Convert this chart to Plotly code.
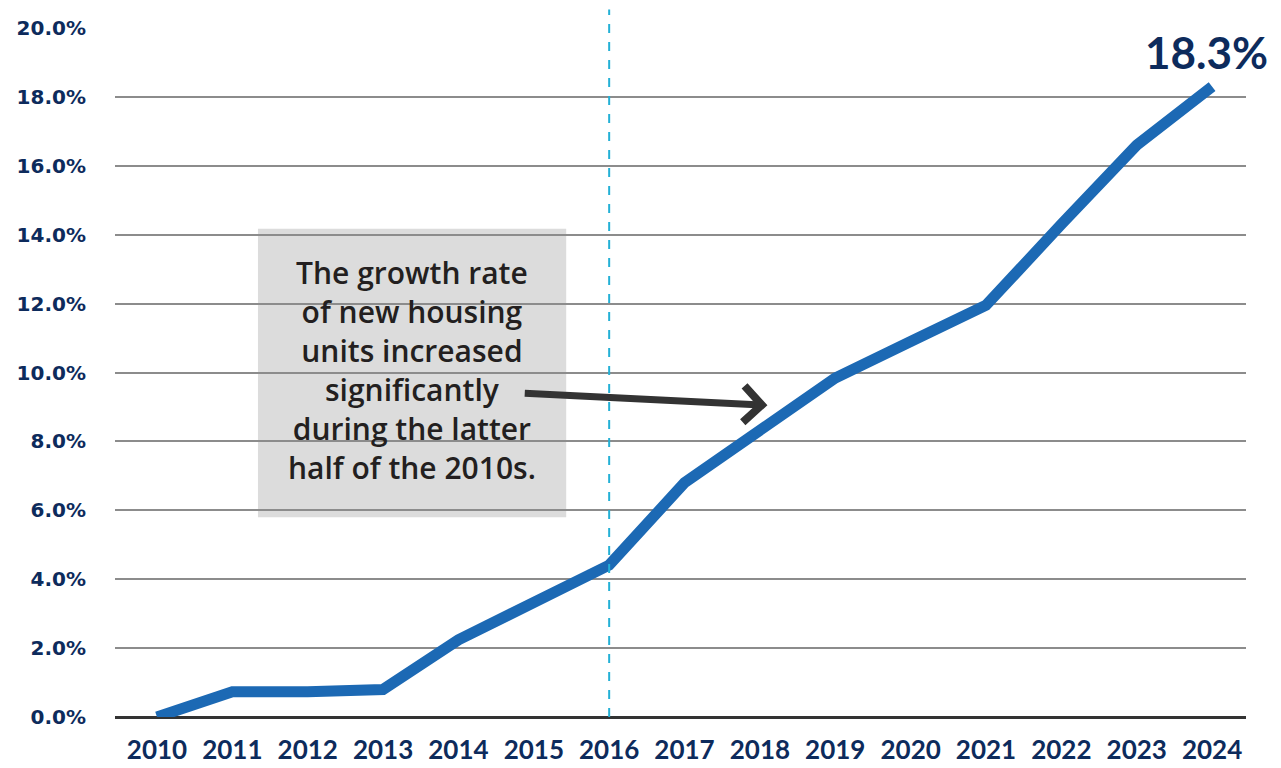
import plotly.graph_objects as go

years = list(range(2010, 2025))
growth = [0.0, 0.73, 0.73, 0.80, 2.24, 3.3, 4.41, 6.8, 8.3, 9.84, 10.9, 11.95, 14.3, 16.6, 18.3]
y_ticks = [0, 2, 4, 6, 8, 10, 12, 14, 16, 18, 20]
y_tick_labels = [f"{v:.1f}%" for v in y_ticks]
note = "The growth rate<br>of new housing<br>units increased<br>significantly<br>during the latter<br>half of the 2010s."

NAVY = "#0d2b5c"

fig = go.Figure()
fig.add_trace(go.Scatter(
    x=years, y=growth, mode="lines",
    line=dict(color="#1c69b4", width=11),
    hoverinfo="skip", showlegend=False,
))

# gray note box (beneath gridlines)
fig.add_shape(type="rect", xref="x", yref="y",
              x0=2011.34, x1=2015.43, y0=5.8, y1=14.17,
              fillcolor="#dcdcdc", line=dict(width=0), layer="below")

# dashed vertical marker at 2016
fig.add_shape(type="line", xref="x", yref="paper",
              x0=2016, x1=2016, y0=0, y1=1.027,
              line=dict(color="#23b0d6", width=2, dash="dash"), layer="above")

fig.add_annotation(x=2013.38, y=10.07, xref="x", yref="y", text=note,
                   showarrow=False, align="center",
                   font=dict(family="Open Sans", size=30, color="#231f20", weight=600))

fig.add_annotation(x=2018.1, y=9.05, xref="x", yref="y",
                   ax=2014.86, ay=9.4, axref="x", ayref="y",
                   text="", showarrow=True, arrowhead=4, arrowsize=1.0,
                   arrowwidth=7, arrowcolor="#333333")

fig.add_annotation(x=years[-1], y=growth[-1], xref="x", yref="y",
                   text=f"{growth[-1]:.1f}%", showarrow=False,
                   yshift=35, xshift=-6,
                   font=dict(family="Lato", size=44, color=NAVY, weight="bold"))

fig.update_layout(
    width=1281, height=768,
    margin=dict(l=115, r=35, t=28, b=51, autoexpand=False),
    paper_bgcolor="white", plot_bgcolor="white",
    showlegend=False,
)
fig.update_xaxes(
    range=[2009.443, 2024.45], tickmode="array", tickvals=years,
    ticktext=[str(y) for y in years], showgrid=False, zeroline=False,
    showline=False, ticks="", ticklabelstandoff=15, automargin=False,
    tickfont=dict(family="Lato", size=26, color=NAVY, weight="bold"),
)
fig.update_yaxes(
    range=[0, 20], tickmode="array", tickvals=y_ticks, ticktext=y_tick_labels,
    showgrid=True, gridcolor="#8c8c8c", gridwidth=1.5,
    zeroline=True, zerolinecolor="#333333", zerolinewidth=3,
    showline=False, ticks="", ticklabelstandoff=28, automargin=False,
    tickfont=dict(family="DejaVu Sans", size=20, color=NAVY, weight="bold"),
)

fig.write_html("out.html")
